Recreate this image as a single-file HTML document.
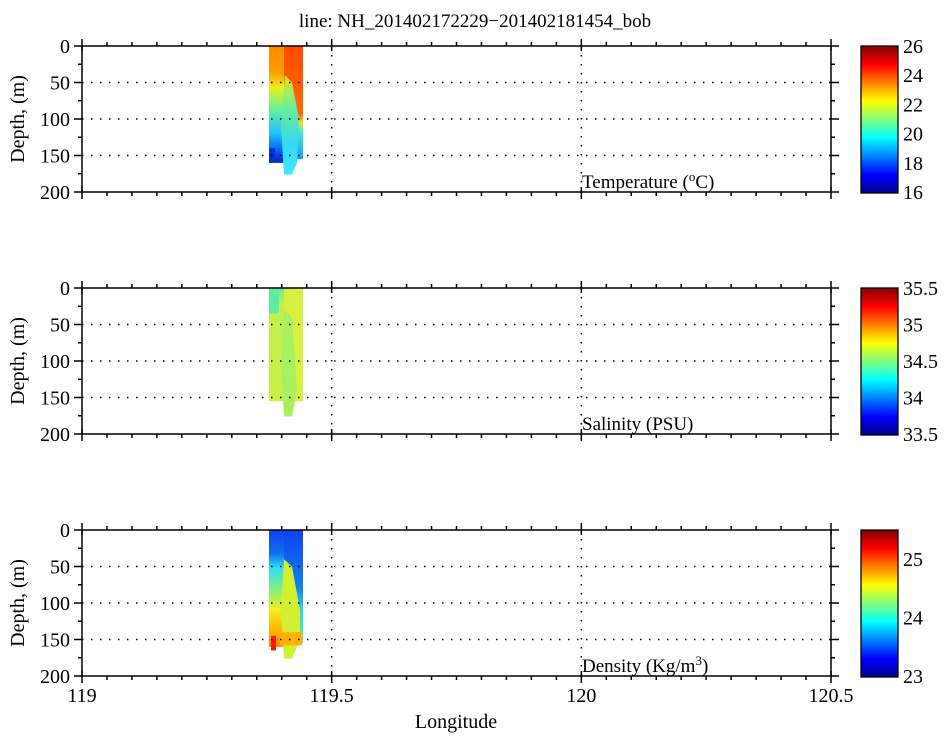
<!DOCTYPE html>
<html><head><meta charset="utf-8"><style>
html,body{margin:0;padding:0;background:#fff;}
svg, svg text{font-family:"Liberation Serif","Times New Roman",serif !important;}
</style></head><body>
<svg id="s" width="950" height="739" viewBox="0 0 950 739" xmlns="http://www.w3.org/2000/svg" font-family="Liberation Serif, serif">
<defs>
<linearGradient id="cbT" x1="0" y1="1" x2="0" y2="0">
<stop offset="0" stop-color="#00008f"/><stop offset="0.125" stop-color="#0000ff"/><stop offset="0.375" stop-color="#00ffff"/><stop offset="0.625" stop-color="#ffff00"/><stop offset="0.875" stop-color="#ff0000"/><stop offset="1" stop-color="#800000"/>
</linearGradient>
<linearGradient id="tL" x1="0" y1="0" x2="0" y2="1">
<stop offset="0" stop-color="#ff8a00"/><stop offset="0.22" stop-color="#ff9a00"/><stop offset="0.36" stop-color="#e8f020"/><stop offset="0.55" stop-color="#60f0a0"/><stop offset="0.75" stop-color="#20c0ff"/><stop offset="0.92" stop-color="#0050f0"/><stop offset="1" stop-color="#0020c0"/>
</linearGradient>
<linearGradient id="tR" x1="0" y1="0" x2="0" y2="1">
<stop offset="0" stop-color="#ff4a00"/><stop offset="0.6" stop-color="#ff6a00"/><stop offset="0.68" stop-color="#f0e020"/><stop offset="0.76" stop-color="#40e8e0"/><stop offset="1" stop-color="#10a0f0"/>
</linearGradient>
<linearGradient id="tM" x1="0" y1="0" x2="0" y2="1">
<stop offset="0" stop-color="#f0e020"/><stop offset="0.3" stop-color="#70f090"/><stop offset="0.7" stop-color="#30d8f0"/><stop offset="1" stop-color="#40e8ff"/>
</linearGradient>
<linearGradient id="sA" x1="0" y1="0" x2="0" y2="1">
<stop offset="0" stop-color="#60f0a0"/><stop offset="0.15" stop-color="#c0f050"/><stop offset="1" stop-color="#c8f048"/>
</linearGradient>
<linearGradient id="dA" x1="0" y1="0" x2="0" y2="1">
<stop offset="0" stop-color="#1040f0"/><stop offset="0.2" stop-color="#1070f0"/><stop offset="0.33" stop-color="#30e0f0"/><stop offset="0.5" stop-color="#80f080"/><stop offset="0.68" stop-color="#f0f020"/><stop offset="0.88" stop-color="#ffb000"/><stop offset="1" stop-color="#ff8000"/>
</linearGradient>
<linearGradient id="dR" x1="0" y1="0" x2="0" y2="1">
<stop offset="0" stop-color="#1040f0"/><stop offset="0.5" stop-color="#1080f0"/><stop offset="0.7" stop-color="#30d0f0"/><stop offset="1" stop-color="#60f0b0"/>
</linearGradient>
</defs>
<text x="475" y="27" font-size="19" text-anchor="middle" font-family="Liberation Serif, serif">line: NH_201402172229−201402181454_bob</text>
<g id="g"></g>
</svg>
<script>
var g=document.getElementById('g'),NS='http://www.w3.org/2000/svg';
function el(t,a,txt){var e=document.createElementNS(NS,t);for(var k in a)e.setAttribute(k,a[k]);if(t=='text')e.setAttribute('font-family','Liberation Serif, serif');if(txt!=null)e.textContent=txt;g.appendChild(e);return e;}
var L=82,R=831,tops=[46,288,530],H=146;
var cbl=[["16","18","20","22","24","26"],["33.5","34","34.5","35","35.5"],["23","24","25"]];
var cbpos=[[0,.2,.4,.6,.8,1],[0,.25,.5,.75,1],[0,.4,.8]];
function X(v){return L+(v-119)/1.5*(R-L);}
for(var p=0;p<3;p++){
 var T=tops[p],B=T+H;function Y(d){return T+d*H/200;}
 if(p==0){
  el('rect',{x:269,y:Y(0),width:17,height:Y(160)-Y(0),fill:'url(#tL)'});
  el('rect',{x:284,y:Y(0),width:19,height:Y(155)-Y(0),fill:'url(#tR)',rx:1});
  el('path',{d:'M285 '+Y(40)+' L292 '+Y(50)+' L299 '+Y(100)+' L297 '+Y(160)+' L292 '+Y(176)+' L284 '+Y(176)+' L281 '+Y(110)+' Z',fill:'url(#tM)'});
  el('rect',{x:269,y:Y(140),width:6,height:Y(160)-Y(140),fill:'#0030d0'});
 }else if(p==1){
  el('rect',{x:269,y:Y(0),width:34,height:Y(155)-Y(0),fill:'url(#sA)'});
  el('rect',{x:284,y:Y(0),width:19,height:Y(155)-Y(0),fill:'#d8f040'});
  el('path',{d:'M284 '+Y(30)+' L292 '+Y(40)+' L297 '+Y(140)+' L292 '+Y(176)+' L284 '+Y(176)+' L281 '+Y(100)+' Z',fill:'#a8f060'});
  el('rect',{x:269,y:Y(0),width:10,height:Y(35)-Y(0),fill:'#60eca0'});
 }else{
  el('rect',{x:269,y:Y(0),width:17,height:Y(160)-Y(0),fill:'url(#dA)'});
  el('rect',{x:284,y:Y(0),width:19,height:Y(155)-Y(0),fill:'url(#dR)'});
  el('path',{d:'M284 '+Y(40)+' L292 '+Y(50)+' L300 '+Y(110)+' L300 '+Y(150)+' L292 '+Y(176)+' L284 '+Y(176)+' L281 '+Y(110)+' Z',fill:'#d0f030'});
  el('rect',{x:280,y:Y(140),width:22,height:Y(158)-Y(140),fill:'#ffb000'});
  el('rect',{x:271,y:Y(145),width:5,height:Y(165)-Y(145),fill:'#f02000'});
 }
 [50,100,150].forEach(function(d){el('line',{x1:L,x2:R,y1:Y(d),y2:Y(d),stroke:'#000','stroke-width':1.5,'stroke-dasharray':'1.5 7.5'});});
 [119.5,120].forEach(function(v){el('line',{x1:X(v),x2:X(v),y1:T,y2:B,stroke:'#000','stroke-width':1.5,'stroke-dasharray':'1.5 7.5'});});
 for(var i=0;i<=30;i++){var v=119+i*0.05,x=X(v),maj=(i%10==0);
  el('line',{x1:x,x2:x,y1:T-(maj?7:4),y2:T+(maj?5:0),stroke:'#000','stroke-width':1.5});
  el('line',{x1:x,x2:x,y1:B-(maj?5:0),y2:B+(maj?7:4),stroke:'#000','stroke-width':1.5});}
 for(var d=0;d<=200;d+=25){var y=Y(d),maj=(d%50==0);
  el('line',{x1:L-(maj?8:4),x2:L,y1:y,y2:y,stroke:'#000','stroke-width':1.5});
  el('line',{x1:R,x2:R+(maj?8:4),y1:y,y2:y,stroke:'#000','stroke-width':1.5});
  if(maj)el('text',{x:L-12,y:y+7,'font-size':20,'text-anchor':'end'},String(d));}
 el('rect',{x:L,y:T,width:R-L,height:H,fill:'none',stroke:'#000','stroke-width':1.5});
 el('text',{x:24,y:T+H/2,'font-size':20,'text-anchor':'middle',transform:'rotate(-90 24 '+(T+H/2)+')'},'Depth, (m)');
 var t=el('text',{x:582,y:B-4,'font-size':19});
 if(p==0)t.innerHTML='Temperature (<tspan dy="-7" font-size="13">o</tspan><tspan dy="7">C)</tspan>';
 else if(p==1)t.textContent='Salinity (PSU)';
 else t.innerHTML='Density (Kg/m<tspan dy="-7" font-size="13">3</tspan><tspan dy="7">)</tspan>';
 el('rect',{x:861,y:T,width:37,height:H+1,fill:'url(#cbT)',stroke:'#000','stroke-width':1.3});
 cbl[p].forEach(function(s,k){var y=T+H-cbpos[p][k]*H;el('text',{x:903,y:y+7,'font-size':20},s);});
}
[119,119.5,120,120.5].forEach(function(v){el('text',{x:X(v),y:702,'font-size':20,'text-anchor':'middle'},String(v));});
el('text',{x:456,y:728,'font-size':20,'text-anchor':'middle'},'Longitude');
</script>
</body></html>
